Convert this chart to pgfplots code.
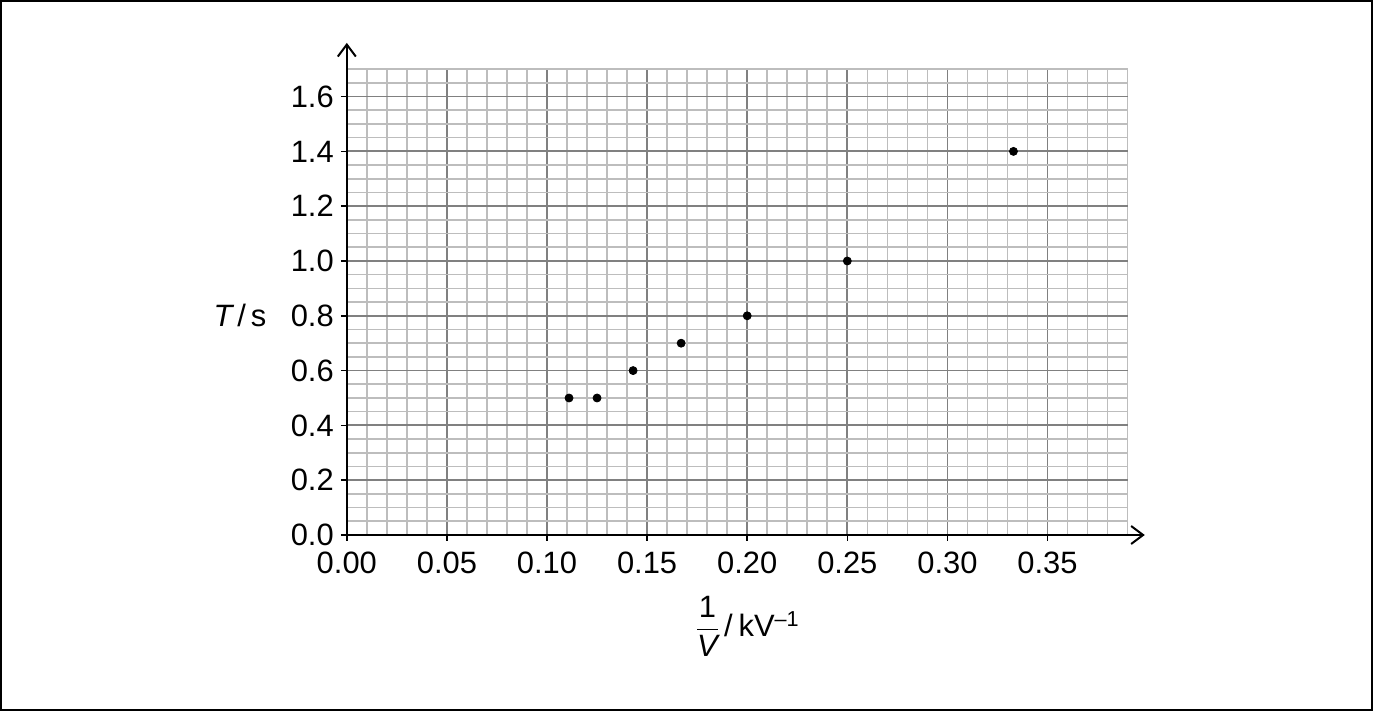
\documentclass[border=0pt]{standalone}
\usepackage{pgfplots}
\pgfplotsset{compat=1.18}
\usepackage{fontspec}
\setmainfont{Liberation Sans}
\usetikzlibrary{arrows.meta}
\begin{document}
\begin{tikzpicture}
\useasboundingbox (0,0) rectangle (686.5bp,355.5bp);
\draw[line width=0.75bp] (0.6bp,0.6bp) rectangle (685.9bp,354.9bp);
\begin{axis}[
  at={(173.4bp,88bp)}, anchor=origin,
  x=1001bp, y=137bp,
  xmin=0, xmax=0.39, ymin=0, ymax=1.7,
  axis line style={draw=none},
  tick pos=left, tick align=outside,
  xtick={0,0.05,0.10,0.15,0.20,0.25,0.30,0.35},
  ytick={0,0.2,0.4,0.6,0.8,1.0,1.2,1.4,1.6},
  minor xtick={0,0.01,...,0.395},
  minor ytick={0,0.05,...,1.705},
  grid=both,
  minor grid style={line width=0.8bp, black!26},
  major grid style={line width=0.9bp, black!50},
  major tick length=3bp, minor tick length=0pt,
  tick style={black, line width=0.75bp},
  /pgf/number format/assume math mode=true,
  xticklabel style={yshift=-2bp, /pgf/number format/.cd, fixed, fixed zerofill, precision=2},
  yticklabel style={/pgf/number format/.cd, fixed, fixed zerofill, precision=1},
  ticklabel style={font=\fontsize{15.5}{18}\selectfont},
  clip=false,
]
\addplot[only marks, mark=*, mark size=2bp, black] coordinates {
(0.111,0.5) (0.125,0.5) (0.143,0.6) (0.167,0.7) (0.200,0.8) (0.250,1.0) (0.333,1.4)
};
\draw[line width=1bp, -{Straight Barb[length=6bp,width=9bp]}] (axis cs:0,0) -- (axis cs:0.3986,0);
\draw[line width=1bp, -{Straight Barb[length=6bp,width=9bp]}] (axis cs:0,0) -- (axis cs:0,1.796);
\node[anchor=east, inner sep=0pt, font=\fontsize{15.5}{18}\selectfont] at (axis cs:-0.04,0.8) {\textit{T}\kern1.5bp/\kern2.5bp s};
\node[font=\fontsize{15.5}{18}\selectfont] at (axis cs:0.2,-0.332) {$\displaystyle\frac{\mbox{1}}{\mbox{\itshape V}}$\kern2bp/\kern3bp kV\textsuperscript{–1}};
\end{axis}
\end{tikzpicture}
\end{document}
